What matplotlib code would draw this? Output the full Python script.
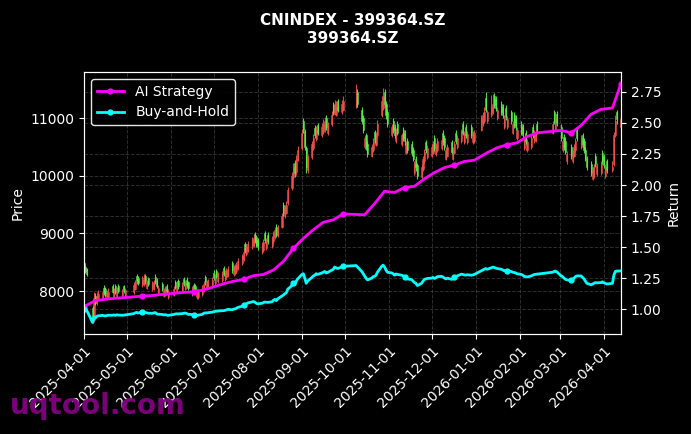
import numpy as np
import pandas as pd
import matplotlib
matplotlib.use("Agg")
import matplotlib.pyplot as plt
import matplotlib.dates as mdates
import matplotlib.ticker as mticker

# ---------------- data ----------------
holidays = ["2025-04-04", "2025-05-01", "2025-05-02", "2025-05-05", "2025-06-02",
            "2025-10-01", "2025-10-02", "2025-10-03", "2025-10-06", "2025-10-07", "2025-10-08",
            "2026-01-01", "2026-01-02", "2026-02-16", "2026-02-17", "2026-02-18",
            "2026-02-19", "2026-02-20", "2026-02-23", "2026-04-06"]

open_ = [
    8480, 8420, 8380,
    7700, 7500, 7920, 7790, 7860,
    7880, 8060, 8040, 7870, 7900,
    8080, 7900, 8090, 7920, 8090,
    7910, 8080, 7920,
    7980, 8040, 8260, 8230,
    8100, 8120, 8260, 8060, 8220,
    8030, 8050, 8250, 8180, 7970,
    8130, 7920, 7940, 8090, 7890,
    7940, 8160, 7990, 8170,
    8000, 8210, 8040, 8200, 8150,
    7950, 8110, 8090, 7890, 7900,
    7950, 8020, 8240, 8040, 8060,
    8100, 8320, 8140, 8350, 8170,
    8190, 8400, 8210, 8240, 8270,
    8480, 8290, 8310, 8350, 8400,
    8480, 8560, 8810, 8640, 8700,
    8760, 8800, 8990, 8930, 8880,
    8680, 8720, 9000, 8750, 8980,
    8780, 8870, 8930, 9120, 8970,
    9120, 9500, 9300, 9360, 9520,
    9780, 9980, 10220, 10060, 10280,
    10480, 10950, 10780, 10480, 10100,
    10320, 10480, 10830, 10640, 10880,
    10700, 10760, 10790, 11000, 10740,
    10900, 11230, 11080, 11060, 11300,
    11100, 11150,
    11200, 11450,
    11150, 11000, 10500, 10700, 10550,
    10350, 10450, 10760, 10540, 10700,
    11050, 11180, 11450, 11250, 11100,
    10700, 10950, 10850, 10600, 10900,
    10550, 10800, 10750, 10400, 10600,
    10550, 10450, 10050, 10300, 10180,
    9980, 10120, 10250, 10580, 10320,
    10350, 10400, 10650, 10370, 10450,
    10480, 10750, 10650, 10300, 10350,
    10580, 10300, 10400, 10750, 10500,
    10600, 10900, 10580, 10850, 10580,
    10850, 10580, 10600,
    10800, 10900, 10950, 11350, 10950,
    11050, 11100, 11380, 11330, 11000,
    11250, 11200, 10850, 11170, 10850,
    11100, 10750, 11050, 11000, 10650,
    10900, 10850, 10480, 10750, 10450,
    10500, 10850, 10600, 10620, 10900,
    10750, 11100, 10820, 11080,
    10850, 10450, 10680, 10600, 10250,
    10500, 10250, 10350, 10450, 10800,
    10500, 10700, 10600, 10450, 10300,
    10200, 9950, 10000, 10350, 10030,
    10050, 10400, 10330, 10000, 10250,
    10100, 10200, 10700, 11100,
    10850,
]

close = [
    8400, 8340, 8300,
    7500, 7880, 7800, 7920, 7950,
    7980, 7960, 7940, 7970, 7990,
    7990, 8010, 7980, 8020, 8000,
    7990, 8000, 8010,
    8100, 8150, 8180, 8140,
    8200, 8230, 8170, 8150, 8130,
    8120, 8150, 8170, 8090, 8060,
    8040, 8010, 8030, 8000, 7980,
    8040, 8070, 8090, 8080,
    8100, 8120, 8140, 8110, 8050,
    8040, 8020, 8000, 7980, 7990,
    8050, 8120, 8150, 8140, 8160,
    8200, 8230, 8250, 8260, 8280,
    8290, 8300, 8320, 8350, 8390,
    8360, 8400, 8420, 8460, 8520,
    8600, 8680, 8700, 8760, 8820,
    8890, 8920, 8870, 8800, 8760,
    8800, 8850, 8880, 8870, 8860,
    8900, 9000, 9060, 8980, 9100,
    9300, 9360, 9450, 9500, 9750,
    10000, 10150, 10050, 10300, 10450,
    10750, 10800, 10500, 10150, 10300,
    10550, 10650, 10700, 10800, 10750,
    10850, 10900, 10950, 10850, 10880,
    11050, 11100, 11250, 11200, 11150,
    11250, 11300,
    11350, 11250,
    10950, 10800, 10650, 10500, 10380,
    10500, 10600, 10620, 10700, 10900,
    11300, 11380, 11250, 11050, 10900,
    10850, 10800, 10700, 10780, 10750,
    10700, 10650, 10600, 10550, 10450,
    10400, 10300, 10200, 10150, 10000,
    10150, 10300, 10420, 10450, 10480,
    10500, 10550, 10480, 10520, 10600,
    10620, 10580, 10500, 10450, 10500,
    10420, 10450, 10560, 10600, 10650,
    10770, 10750, 10720, 10700, 10730,
    10700, 10720, 10750,
    11000, 11050, 11100, 11150, 11100,
    11200, 11250, 11220, 11180, 11150,
    11100, 11050, 11000, 11020, 10990,
    10950, 10900, 10880, 10850, 10800,
    10750, 10700, 10620, 10600, 10580,
    10650, 10700, 10740, 10760, 10770,
    10900, 10950, 10980, 10920,
    10650, 10600, 10500, 10420, 10380,
    10350, 10400, 10500, 10600, 10650,
    10650, 10550, 10450, 10300, 10150,
    10050, 10100, 10150, 10200, 10180,
    10200, 10250, 10180, 10150, 10100,
    10150, 10700, 10950, 10980,
    10990,
]

high = [
    8520, 8450, 8400,
    7740, 7990, 7960, 7980, 8010,
    8030, 8100, 8070, 8020, 8050,
    8120, 8060, 8120, 8070, 8130,
    8040, 8110, 8060,
    8150, 8200, 8300, 8270,
    8260, 8290, 8300, 8200, 8250,
    8170, 8200, 8290, 8220, 8110,
    8160, 8060, 8080, 8130, 8030,
    8090, 8200, 8140, 8210,
    8150, 8250, 8190, 8240, 8180,
    8090, 8140, 8130, 8030, 8040,
    8100, 8170, 8280, 8190, 8210,
    8250, 8360, 8300, 8390, 8330,
    8340, 8440, 8370, 8400, 8440,
    8520, 8450, 8470, 8510, 8570,
    8650, 8730, 8850, 8810, 8870,
    8940, 8980, 9030, 8970, 8920,
    8850, 8900, 9040, 8920, 9020,
    8950, 9050, 9110, 9160, 9150,
    9350, 9550, 9500, 9560, 9800,
    10060, 10230, 10270, 10360, 10520,
    10820, 11000, 10820, 10520, 10360,
    10600, 10720, 10880, 10870, 10920,
    10920, 10980, 11020, 11050, 10940,
    11120, 11280, 11320, 11290, 11340,
    11320, 11380,
    11600, 11500,
    11200, 11050, 10700, 10740, 10600,
    10560, 10660, 10800, 10760, 10960,
    11380, 11520, 11500, 11300, 11150,
    10900, 11000, 10900, 10830, 10950,
    10750, 10850, 10800, 10600, 10650,
    10600, 10500, 10250, 10350, 10220,
    10200, 10350, 10470, 10620, 10530,
    10550, 10600, 10700, 10570, 10650,
    10670, 10800, 10700, 10500, 10550,
    10620, 10500, 10610, 10800, 10700,
    10820, 10950, 10770, 10900, 10780,
    10900, 10770, 10800,
    11050, 11100, 11200, 11450, 11150,
    11400, 11420, 11430, 11380, 11200,
    11300, 11250, 11050, 11220, 11040,
    11150, 10950, 11100, 11050, 10850,
    10950, 10900, 10670, 10800, 10630,
    10700, 10900, 10790, 10810, 10950,
    10950, 11150, 11030, 11130,
    10900, 10650, 10720, 10650, 10430,
    10550, 10450, 10550, 10650, 10850,
    10700, 10750, 10650, 10500, 10350,
    10250, 10150, 10200, 10400, 10230,
    10250, 10450, 10380, 10200, 10300,
    10250, 10760, 11050, 11150,
    11060,
]

low = [
    8370, 8310, 8270,
    7450, 7460, 7760, 7760, 7830,
    7850, 7930, 7900, 7840, 7870,
    7960, 7880, 7950, 7890, 7970,
    7880, 7960, 7890,
    7950, 8010, 8130, 8100,
    8070, 8090, 8130, 8030, 8090,
    8000, 8020, 8130, 8050, 7940,
    8000, 7890, 7910, 7960, 7860,
    7910, 8030, 7960, 8040,
    7970, 8080, 8010, 8070, 8010,
    7920, 7980, 7960, 7860, 7870,
    7920, 7990, 8110, 8010, 8030,
    8070, 8190, 8110, 8220, 8140,
    8160, 8260, 8180, 8210, 8240,
    8320, 8260, 8280, 8320, 8370,
    8450, 8530, 8660, 8610, 8670,
    8730, 8770, 8830, 8760, 8720,
    8650, 8690, 8840, 8720, 8820,
    8750, 8840, 8900, 8940, 8940,
    9090, 9310, 9270, 9330, 9490,
    9750, 9950, 9980, 10020, 10250,
    10450, 10740, 10450, 10050, 10050,
    10290, 10450, 10650, 10610, 10700,
    10670, 10730, 10760, 10800, 10710,
    10870, 11050, 11050, 11030, 11100,
    11070, 11120,
    11170, 11200,
    10900, 10750, 10470, 10450, 10330,
    10320, 10420, 10570, 10510, 10670,
    11020, 11150, 11200, 10990, 10840,
    10670, 10750, 10650, 10570, 10700,
    10520, 10600, 10540, 10370, 10400,
    10350, 10250, 10020, 10080, 9950,
    9950, 10090, 10220, 10400, 10290,
    10320, 10370, 10430, 10340, 10420,
    10450, 10530, 10450, 10270, 10320,
    10370, 10270, 10370, 10550, 10470,
    10570, 10700, 10550, 10650, 10550,
    10650, 10550, 10570,
    10770, 10870, 10920, 11100, 10920,
    11020, 11070, 11170, 11130, 10970,
    11050, 11000, 10820, 10970, 10820,
    10900, 10720, 10830, 10800, 10620,
    10700, 10650, 10450, 10550, 10420,
    10470, 10650, 10570, 10590, 10720,
    10720, 10900, 10790, 10870,
    10600, 10420, 10450, 10370, 10200,
    10300, 10220, 10320, 10420, 10600,
    10470, 10500, 10400, 10250, 10100,
    10000, 9920, 9970, 10150, 10000,
    10020, 10200, 10130, 9970, 10050,
    10070, 10170, 10670, 10900,
    10820,
]

# AI strategy cumulative return, sampled every 5th trading day (plus the last day)
ai_return = [
    1.02, 1.07, 1.08, 1.088, 1.094,
    1.105, 1.11, 1.119, 1.128, 1.135,
    1.14, 1.155, 1.18, 1.205, 1.225,
    1.24, 1.27, 1.28, 1.315, 1.385,
    1.49, 1.57, 1.64, 1.70, 1.72,
    1.767, 1.76, 1.85, 1.95, 1.94,
    1.98, 1.99, 2.05, 2.10, 2.14,
    2.16, 2.19, 2.20, 2.26, 2.30,
    2.325, 2.34, 2.39, 2.42, 2.44,
    2.42, 2.48, 2.57, 2.61, 2.62,
    2.817,
]

title_text = "CNINDEX - 399364.SZ\n399364.SZ"
watermark = "uqtool.com"

# ---------------- build ----------------
days = pd.bdate_range("2025-04-01", "2026-04-13")
days = days[~days.isin(pd.to_datetime(holidays))]
n = len(days)
o = np.array(open_[:n], float)
c = np.array(close[:n], float)
h = np.array(high[:n], float)
l = np.array(low[:n], float)
x = mdates.date2num(days.to_pydatetime())

bh = c / c[0]
ai_idx = list(range(0, n, 5))
if ai_idx[-1] != n - 1:
    ai_idx.append(n - 1)
ai_x = x[ai_idx]
ai_y = np.array(ai_return[:len(ai_idx)])

plt.style.use("dark_background")
fig = plt.figure(figsize=(6.91, 4.34), dpi=100)
ax = fig.add_axes([0.1216, 0.2304, 0.7771, 0.6036])
ax2 = ax.twinx()

up = c >= o
col_up, col_dn = "#f2504a", "#5af04a"
colors = np.where(up, col_up, col_dn)
ax.vlines(x, l, h, colors=colors, linewidth=0.8, alpha=0.9)
body_bot = np.minimum(o, c)
body_h = np.maximum(np.abs(c - o), 8)
ax.bar(x, body_h, bottom=body_bot, width=0.75, color=colors, edgecolor=colors,
       linewidth=0.4, alpha=0.9)

ax2.plot(ai_x, ai_y, color="#ff00ff", lw=2, marker="o", markersize=3.5,
         markevery=5, label="AI Strategy")
ax2.plot(x, bh, color="#00ffff", lw=2, marker="o", markersize=3.5,
         markevery=25, label="Buy-and-Hold")

ax.set_xlim(x[0], x[-1])
ax.set_ylim(7255, 11800)
ax2.set_ylim(0.80, 2.91)
ax.set_yticks([8000, 9000, 10000, 11000])
ax2.set_yticks([1.0, 1.25, 1.5, 1.75, 2.0, 2.25, 2.5, 2.75])
ax2.yaxis.set_major_formatter(mticker.FormatStrFormatter("%.2f"))

ax.xaxis.set_major_locator(mdates.MonthLocator())
ax.xaxis.set_major_formatter(mdates.DateFormatter("%Y-%m-%d"))
plt.setp(ax.get_xticklabels(), rotation=45, ha="right", rotation_mode="anchor")

ax.grid(True, ls="--", color="gray", alpha=0.35, lw=0.7)
ax2.grid(True, ls="--", color="gray", alpha=0.35, lw=0.7)

ax.set_ylabel("Price", fontsize=10)
ax2.set_ylabel("Return", fontsize=10)
ax.set_title(title_text, fontsize=11, fontweight="bold", pad=21)

leg = ax2.legend(loc="upper left", facecolor="black", edgecolor="white",
                 framealpha=0.9, fontsize=10)

fig.text(0.015, 0.045, watermark, fontsize=20, fontweight="bold",
         color="#800080", alpha=0.95, ha="left", va="baseline")

fig.savefig("out.png", dpi=100, facecolor="black")
